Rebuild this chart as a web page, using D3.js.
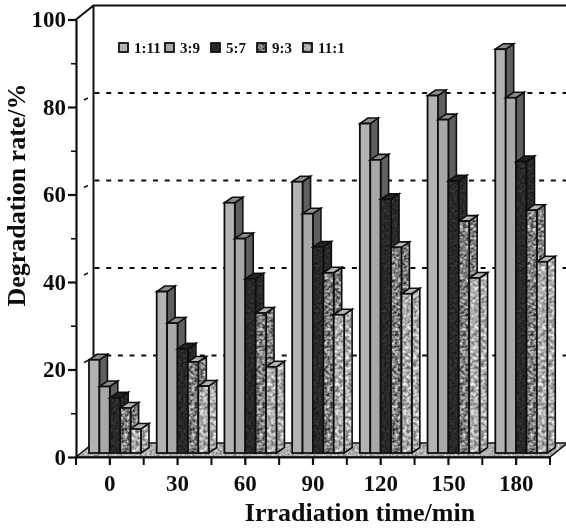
<!DOCTYPE html>
<html>
<head>
<meta charset="utf-8">
<script src="https://cdn.jsdelivr.net/npm/d3@7"></script>
<style>
  html, body { margin: 0; padding: 0; background: #fff; }
  svg { display: block; }
  text { font-family: "Liberation Serif", serif; font-weight: bold; fill: #111; }
  .axis path, .axis line { stroke: #111; }
</style>
</head>
<body>
<svg width="566" height="529"></svg>
<script>
var times = ["0", "30", "60", "90", "120", "150", "180"];
var ratios = ["1:11", "3:9", "5:7", "9:3", "11:1"];
var rate1 = [21.3, 36.9, 57.2, 62, 75.3, 81.7, 92.3];
var rate2 = [15.2, 29.7, 49, 54.7, 67, 76.2, 81.2];
var rate3 = [12.6, 23.8, 39.8, 47.1, 58, 62.2, 66.6];
var rate4 = [10.3, 20.8, 32, 41.2, 47, 53, 55.5];
var rate5 = [5.5, 15.3, 19.7, 31.6, 36.4, 40, 43.7];
var rates = [rate1, rate2, rate3, rate4, rate5];
var majorTicks = [0, 20, 40, 60, 80, 100];
var minorTicks = [10, 30, 50, 70, 90];
var gridTicks = [20, 40, 60, 80];

var svg = d3.select("svg");
var defs = svg.append("defs");

// plot box, depth of the 3d walls and depth of the bars
var x0Px = 76, x1Px = 550, yBottom = 457, yTop = 19.5;
var wallDx = 17.5, wallDy = -14;
var barShiftY = -4;
var barDx = 8, barDy = -5.5;

var x0 = d3.scaleBand().domain(times).range([x0Px, x1Px]);
var x1 = d3.scaleBand().domain(ratios).range([13, 65]);
var y = d3.scaleLinear().domain([0, 100]).range([yBottom, yTop]);

// mottled fills for the printed look
function texture(id, freq, slope, intercept) {
  var f = defs.append("filter").attr("id", id + "-n")
    .attr("x", 0).attr("y", 0).attr("width", 1).attr("height", 1)
    .attr("color-interpolation-filters", "sRGB");
  f.append("feTurbulence").attr("type", "fractalNoise")
    .attr("baseFrequency", freq).attr("numOctaves", 2).attr("seed", 4);
  f.append("feColorMatrix").attr("type", "matrix")
    .attr("values", "1 0 0 0 0 1 0 0 0 0 1 0 0 0 0 0 0 0 0 1");
  var ct = f.append("feComponentTransfer");
  ["feFuncR", "feFuncG", "feFuncB"].forEach(function(c) {
    ct.append(c).attr("type", "linear").attr("slope", slope).attr("intercept", intercept);
  });
  var p = defs.append("pattern").attr("id", id).attr("patternUnits", "userSpaceOnUse")
    .attr("width", 600).attr("height", 600);
  p.append("rect").attr("width", 600).attr("height", 600).attr("fill", "#888")
    .attr("filter", "url(#" + id + "-n)");
}
texture("dark", 0.4, 0.25, 0.04);
texture("mid", 0.35, 1.4, -0.2);
texture("light", 0.3, 1.1, 0.14);
texture("floor", 0.4, 0.7, 0.34);

var faces = [
  {front: "#b3b3b3", side: "#5f5f5f", top: "#8c8c8c"},
  {front: "#a8a8a8", side: "#5f5f5f", top: "#8c8c8c"},
  {front: "url(#dark)", side: "url(#dark)", top: "#222"},
  {front: "url(#mid)", side: "url(#mid)", top: "#b5b5b5"},
  {front: "url(#light)", side: "url(#light)", top: "#b5b5b5"}
];

var g = svg.append("g");
var soft = defs.append("filter").attr("id", "soft");
soft.append("feGaussianBlur").attr("stdDeviation", 0.5);
g.attr("filter", "url(#soft)");

// floor
g.append("polygon")
  .attr("points", [[x0Px, yBottom], [x0Px + wallDx, yBottom + wallDy], [x1Px + wallDx, yBottom + wallDy], [x1Px, yBottom]].join(" "))
  .attr("fill", "url(#floor)")
  .attr("stroke", "#111").attr("stroke-width", 1.5);

// dotted grid on the back wall
g.selectAll(".grid").data(gridTicks).enter().append("line")
  .attr("class", "grid")
  .attr("x1", x0Px + wallDx + 1)
  .attr("x2", 566)
  .attr("y1", function(d) { return y(d) + wallDy; })
  .attr("y2", function(d) { return y(d) + wallDy; })
  .attr("stroke", "#111").attr("stroke-width", 2)
  .attr("stroke-dasharray", "5 6.7");
g.selectAll(".gridside").data(gridTicks).enter().append("line")
  .attr("class", "gridside")
  .attr("x1", x0Px + 8).attr("x2", x0Px + 12)
  .attr("y1", function(d) { return y(d) + wallDy + 7; })
  .attr("y2", function(d) { return y(d) + wallDy + 5; })
  .attr("stroke", "#111").attr("stroke-width", 1.5);

// walls
g.append("path")
  .attr("d", "M" + x0Px + "," + yTop + "L" + (x0Px + wallDx) + "," + (yTop + wallDy) + "H566" +
    "M" + (x0Px + wallDx) + "," + (yTop + wallDy) + "V" + (yBottom + wallDy))
  .attr("fill", "none").attr("stroke", "#111").attr("stroke-width", 2);

// bars, left to right so every front covers the side before it
var groups = g.selectAll(".time").data(times).enter().append("g")
  .attr("class", "time")
  .attr("transform", function(d) { return "translate(" + x0(d) + ",0)"; });

ratios.forEach(function(r, s) {
  var w = x1.bandwidth();
  var bar = groups.append("g").datum(function(d, i) { return rates[s][i]; });
  var base = yBottom + barShiftY;
  var bx = x1(r);
  bar.append("polygon")
    .attr("points", function(v) {
      var t = y(v) + barShiftY;
      return [[bx + w, t], [bx + w + barDx, t + barDy], [bx + w + barDx, base + barDy], [bx + w, base]].join(" ");
    })
    .attr("fill", faces[s].side).attr("stroke", "#111").attr("stroke-width", 1.6);
  bar.append("polygon")
    .attr("points", function(v) {
      var t = y(v) + barShiftY;
      return [[bx, t], [bx + barDx, t + barDy], [bx + w + barDx, t + barDy], [bx + w, t]].join(" ");
    })
    .attr("fill", faces[s].top).attr("stroke", "#111").attr("stroke-width", 1.6);
  bar.append("rect")
    .attr("x", bx).attr("width", w)
    .attr("y", function(v) { return y(v) + barShiftY; })
    .attr("height", function(v) { return base - y(v) - barShiftY; })
    .attr("fill", faces[s].front).attr("stroke", "#111").attr("stroke-width", 1.8);
});

// axes
var yAxis = g.append("g").attr("class", "axis")
  .attr("transform", "translate(" + x0Px + ",0)")
  .call(d3.axisLeft(y).tickValues(majorTicks).tickSize(8).tickSizeOuter(0).tickPadding(2));
yAxis.selectAll("path,line").attr("stroke-width", 2.2);
yAxis.selectAll("text").attr("font-size", 23).attr("font-family", null);
g.append("g").attr("class", "axis")
  .attr("transform", "translate(" + x0Px + ",0)")
  .call(d3.axisLeft(y).tickValues(minorTicks).tickSize(5).tickSizeOuter(0).tickFormat(""))
  .selectAll("line").attr("stroke-width", 1.6);

var xAxis = g.append("g").attr("class", "axis")
  .attr("transform", "translate(0," + yBottom + ")")
  .call(d3.axisBottom(x0).tickSize(8).tickSizeOuter(0).tickPadding(10));
xAxis.selectAll("path,line").attr("stroke-width", 2.2);
xAxis.selectAll("text").attr("font-size", 23).attr("font-family", null);
xAxis.selectAll(".edge").data(d3.range(0, times.length + 1)).enter().append("line")
  .attr("class", "edge")
  .attr("x1", function(i) { return x0Px + i * x0.step(); })
  .attr("x2", function(i) { return x0Px + i * x0.step(); })
  .attr("y2", 8)
  .attr("stroke", "#111").attr("stroke-width", 2);

// titles
g.append("text").attr("x", 360).attr("y", 521)
  .attr("text-anchor", "middle").attr("font-size", 26)
  .text("Irradiation time/min");
g.append("text").attr("transform", "translate(25,195) rotate(-90)")
  .attr("text-anchor", "middle").attr("font-size", 26)
  .text("Degradation rate/%");

// legend
var legend = g.selectAll(".legend").data(ratios).enter().append("g")
  .attr("class", "legend")
  .attr("transform", function(d, i) { return "translate(" + (119 + i * 46) + ",43)"; });
legend.append("rect")
  .attr("width", 9).attr("height", 9)
  .attr("fill", function(d, i) { return faces[i].front; })
  .attr("stroke", "#111").attr("stroke-width", 1.8);
legend.append("text")
  .attr("x", 15).attr("y", 9.5)
  .attr("font-size", 15)
  .text(function(d) { return d; });
</script>
</body>
</html>
